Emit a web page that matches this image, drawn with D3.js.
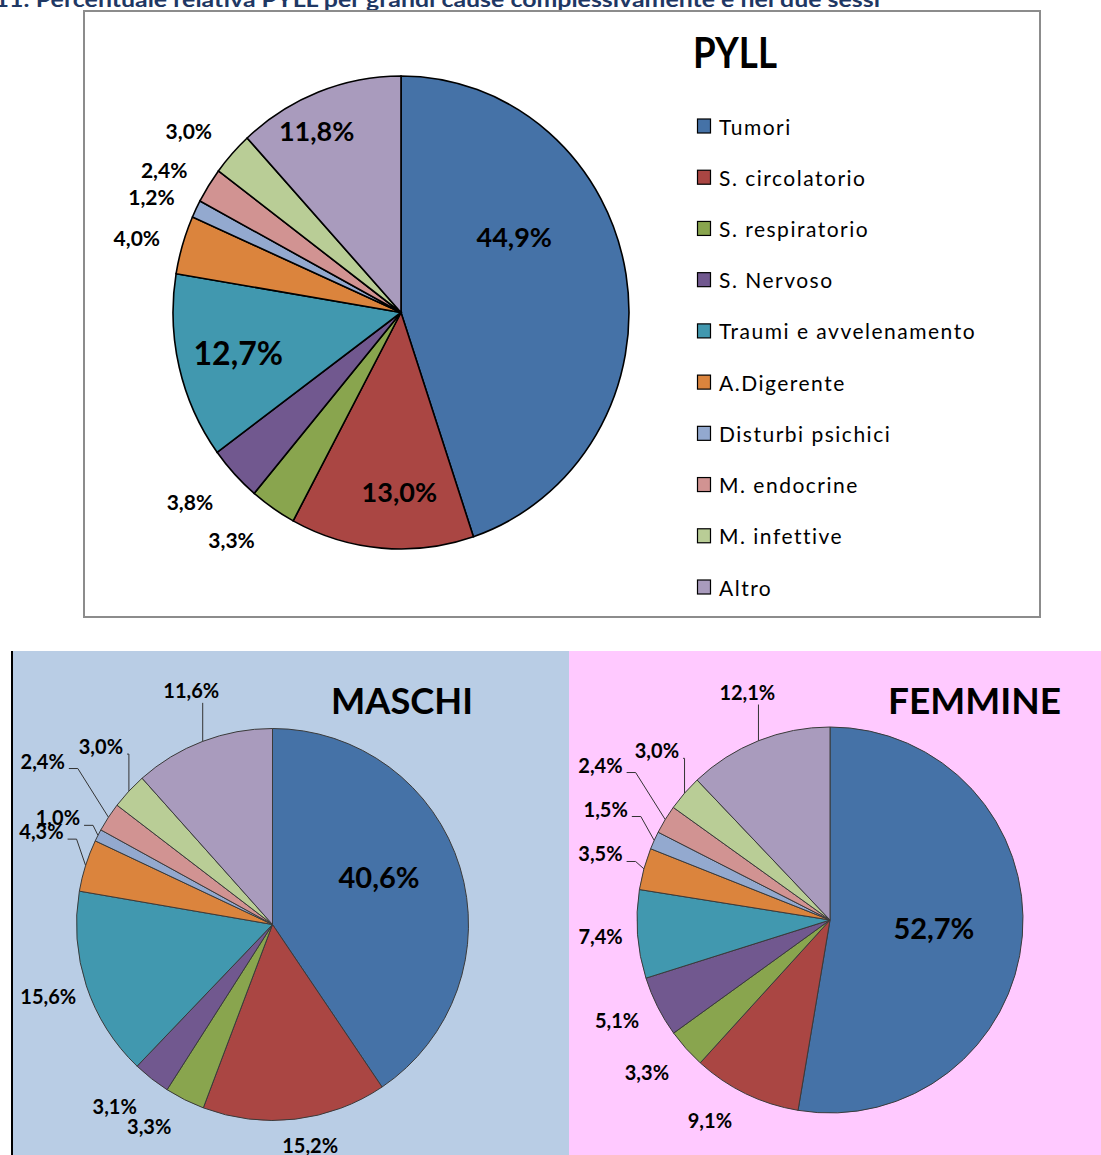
<!DOCTYPE html>
<html>
<head>
<meta charset="utf-8">
<script src="https://cdn.jsdelivr.net/npm/d3@7"></script>
<style>
  body { margin: 0; background: #fff; }
  text { font-family: Lato, "Open Sans", sans-serif; }
</style>
</head>
<body>
<div id="chart"></div>
<script>
const width = 1101;
const height = 1155;

// categories and values (percent of PYLL)
const categories = [
  "Tumori",
  "S. circolatorio",
  "S. respiratorio",
  "S. Nervoso",
  "Traumi e avvelenamento",
  "A.Digerente",
  "Disturbi psichici",
  "M. endocrine",
  "M. infettive",
  "Altro",
];
const pyllValues = [44.9, 13.0, 3.3, 3.8, 12.7, 4.0, 1.2, 2.4, 3.0, 11.8];
const maschiValues = [40.6, 15.2, 3.3, 3.1, 15.6, 4.3, 1.0, 2.4, 3.0, 11.6];
const femmineValues = [52.7, 9.1, 3.3, 5.1, 7.4, 3.5, 1.5, 2.4, 3.0, 12.1];

const colors = [
  "#4572A7", "#AA4643", "#89A54E", "#71588F", "#4198AF",
  "#DB843D", "#93A9CF", "#D19392", "#B9CD96", "#A99BBD",
];

// label placement: [distance as share of radius, angle nudge in degrees]
const pyllLabelLayout = [
  [0.59, -23.4], [0.76, -4.3], [1.216, 3.5], [1.226, 2.1], [0.735, -0.4],
  [1.2, -1.6], [1.198, -2], [1.199, -2.5], [1.204, -2.8], [0.85, -4.6],
];
const pyllLabelSize = [27, 27, 21, 21, 32, 21, 21, 21, 21, 27];

const maschiLabelLayout = [
  [0.594, -6.8], [1.145, -3], [1.207, 4.8], [1.229, 2.8], [1.202, 0.4],
  [1.27, 4.3], [1.222, -0.7], [1.438, 2.2], [1.26, 3.1], [1.263, 1.7],
];
const femmineLabelLayout = [
  [0.54, -0.2], [1.212, 5], [1.235, 2], [1.221, 1.3], [1.192, 0],
  [1.237, 0.6], [1.296, 1.9], [1.434, 2.6], [1.253, 3.2], [1.255, 1.8],
];
const leaderSlices = [5, 6, 7, 8, 9];

const fmt = (v) => d3.format(".1f")(v).replace(".", ",") + "%";

const svg = d3
  .select("#chart")
  .append("svg")
  .attr("width", width)
  .attr("height", height);

// caption cut at top of page
svg
  .append("text")
  .attr("x", -92)
  .attr("y", 7)
  .attr("textLength", 972)
  .attr("lengthAdjust", "spacingAndGlyphs")
  .style("font-size", "20px")
  .style("font-weight", "bold")
  .style("fill", "#1F3864")
  .text("Grafico 11: Percentuale relativa PYLL per grandi cause complessivamente e nei due sessi");

// panels
svg.append("rect")
  .attr("x", 84).attr("y", 11).attr("width", 956).attr("height", 606)
  .attr("fill", "#fff").attr("stroke", "#8c8c8c").attr("stroke-width", 2);
svg.append("rect")
  .attr("x", 11).attr("y", 651).attr("width", 558).attr("height", height - 651)
  .attr("fill", "#B9CDE5");
svg.append("rect")
  .attr("x", 569).attr("y", 651).attr("width", width - 569).attr("height", height - 651)
  .attr("fill", "#FFC9FF");
svg.append("line")
  .attr("x1", 12).attr("x2", 12).attr("y1", 651).attr("y2", height)
  .attr("stroke", "#000").attr("stroke-width", 2);

const pie = d3.pie().sort(null).value((d) => d.value);

function drawPie(opts) {
  const data = categories.map((c, i) => ({ name: c, value: opts.values[i], i: i }));
  const arcs = pie(data);
  const ry = opts.r;
  const rx = opts.r * (opts.squeeze || 1);
  const arc = d3.arc().innerRadius(0).outerRadius(ry);

  svg
    .append("g")
    .attr("transform", `translate(${opts.cx},${opts.cy}) scale(${rx / ry},1)`)
    .selectAll("path")
    .data(arcs)
    .enter()
    .append("path")
    .attr("d", arc)
    .attr("fill", (d) => colors[d.data.i])
    .attr("stroke", opts.stroke)
    .attr("stroke-width", opts.strokeWidth)
    .attr("vector-effect", "non-scaling-stroke");

  const pt = (a, f) => [
    opts.cx + f * rx * Math.sin(a),
    opts.cy - f * ry * Math.cos(a),
  ];

  arcs.forEach((d, k) => {
    const mid = (d.startAngle + d.endAngle) / 2;
    const lay = opts.layout[k];
    const size = opts.sizes[k];
    const [x, y] = pt(mid + (lay[1] * Math.PI) / 180, lay[0]);
    const label = svg
      .append("text")
      .attr("x", x)
      .attr("y", y + size * 0.36)
      .attr("text-anchor", "middle")
      .style("font-size", size + "px")
      .style("font-weight", "bold")
      .style("fill", "#000")
      .text(fmt(d.data.value));

    if (opts.leaders && leaderSlices.includes(k)) {
      const box = label.node().getBBox();
      const p = pt(mid, 1);
      const base = y + size * 0.36;
      let path;
      if (p[0] > box.x && p[0] < box.x + box.width) {
        path = `M${p[0]},${base + 5}L${p[0]},${p[1]}`;
      } else {
        const sx = box.x + box.width + 4;
        const ex = Math.min(sx + 9, p[0]);
        path = `M${sx},${base}H${ex}L${p[0]},${p[1]}`;
      }
      svg
        .append("path")
        .attr("d", path)
        .attr("fill", "none")
        .attr("stroke", "#333")
        .attr("stroke-width", 1);
    }
  });
}

// PYLL overall
drawPie({
  values: pyllValues,
  cx: 401, cy: 312.5, r: 236.5, squeeze: 0.964,
  stroke: "#000", strokeWidth: 1.6,
  layout: pyllLabelLayout, sizes: pyllLabelSize,
  leaders: false,
});

svg
  .append("text")
  .attr("x", 693)
  .attr("y", 68)
  .attr("textLength", 84)
  .attr("lengthAdjust", "spacingAndGlyphs")
  .style("font-size", "42px")
  .style("font-weight", "bold")
  .text("PYLL");

// legend
const legendY = d3.scalePoint().domain(categories).range([127, 588]);
const legend = svg
  .selectAll(".legend")
  .data(categories)
  .enter()
  .append("g")
  .attr("class", "legend")
  .attr("transform", (d) => `translate(697,${legendY(d)})`);
legend
  .append("rect")
  .attr("x", 0.5)
  .attr("y", -8)
  .attr("width", 13)
  .attr("height", 14)
  .attr("fill", (d, i) => colors[i])
  .attr("stroke", "#000")
  .attr("stroke-width", 1.2);
legend
  .append("text")
  .attr("x", 22)
  .attr("y", 7.5)
  .style("font-size", "21px")
  .style("letter-spacing", "1.5px")
  .text((d) => d);

// MASCHI
drawPie({
  values: maschiValues,
  cx: 272.5, cy: 924.5, r: 196,
  stroke: "#3a3a3a", strokeWidth: 1,
  layout: maschiLabelLayout,
  sizes: [29, 20, 20, 20, 20, 20, 20, 20, 20, 20],
  leaders: true,
});
svg
  .append("text")
  .attr("x", 331)
  .attr("y", 714)
  .attr("textLength", 142)
  .attr("lengthAdjust", "spacingAndGlyphs")
  .style("font-size", "36px")
  .style("font-weight", "bold")
  .text("MASCHI");

// FEMMINE
drawPie({
  values: femmineValues,
  cx: 830, cy: 920, r: 193,
  stroke: "#3a3a3a", strokeWidth: 1,
  layout: femmineLabelLayout,
  sizes: [29, 20, 20, 20, 20, 20, 20, 20, 20, 20],
  leaders: true,
});
svg
  .append("text")
  .attr("x", 888)
  .attr("y", 714)
  .attr("textLength", 173)
  .attr("lengthAdjust", "spacingAndGlyphs")
  .style("font-size", "36px")
  .style("font-weight", "bold")
  .text("FEMMINE");
</script>
</body>
</html>
